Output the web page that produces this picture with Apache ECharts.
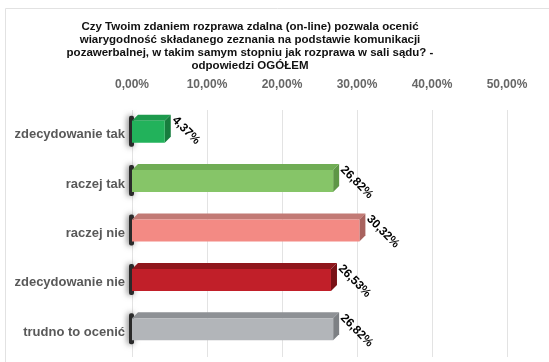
<!DOCTYPE html>
<html>
<head>
<meta charset="utf-8">
<script src="https://cdn.jsdelivr.net/npm/echarts@6/dist/echarts.min.js"></script>
<style>html,body{margin:0;padding:0;background:#fff}#c{width:549px;height:362px}</style>
</head>
<body>
<div id="c"></div>
<script>
const titleText = "Czy Twoim zdaniem rozprawa zdalna (on-line) pozwala ocenić\nwiarygodność składanego zeznania na podstawie komunikacji\npozawerbalnej, w takim samym stopniu jak rozprawa w sali sądu? -\nodpowiedzi OGÓŁEM";
const categories = ["zdecydowanie tak", "raczej tak", "raczej nie", "zdecydowanie nie", "trudno to ocenić"];
const values = [4.37, 26.82, 30.32, 26.53, 26.82];
const frontColors = ["#22b25b", "#86c568", "#f38a84", "#c11f29", "#b2b5b9"];
const topColors = ["#1d9a4d", "#70ad55", "#c27a75", "#8f161c", "#8e9195"];
const sideColors = ["#177d3e", "#5e9646", "#a8625e", "#7a1217", "#7d8084"];

const fmt = v => v.toFixed(2).replace('.', ',') + '%';

const chart = echarts.init(document.getElementById('c'));
chart.setOption({
  animation: false,
  title: {
    text: titleText,
    left: 245, top: 15, textAlign: 'center',
    textStyle: { fontFamily: 'Liberation Sans, Arial', fontSize: 11.5, fontWeight: 'bold', color: '#111', lineHeight: 13 }
  },
  graphic: [{
    type: 'rect', shape: { x: 5.5, y: 8.5, width: 560, height: 370 },
    style: { fill: 'none', stroke: '#e2e2e2', lineWidth: 1 }, z: -10
  }],
  grid: { left: 132, width: 375, top: 110, height: 247 },
  xAxis: {
    type: 'value', position: 'top', min: 0, max: 50, interval: 10,
    axisLine: { show: false }, axisTick: { show: false },
    axisLabel: { formatter: fmt, color: '#666', fontWeight: 'bold', fontSize: 12, fontFamily: 'Liberation Sans, Arial', margin: 19 },
    splitLine: { lineStyle: { color: '#e3e3e3' } }
  },
  yAxis: {
    type: 'category', data: categories, inverse: true,
    axisLine: { show: false }, axisTick: { show: false },
    axisLabel: { color: '#595959', fontWeight: 'bold', fontSize: 13, fontFamily: 'Liberation Sans, Arial', margin: 7 }
  },
  series: [{
    type: 'custom',
    data: values.map((v, i) => [v, i]),
    encode: { x: 0, y: 1 },
    renderItem: function (params, api) {
      const i = params.dataIndex;
      const v = api.value(0);
      const c = api.value(1);
      const p0 = api.coord([0, c]);
      const p1 = api.coord([v, c]);
      const h = 22, d = 6;
      const x0 = p0[0], x1 = p1[0];
      const top = p0[1] - 4 - h / 2 + 1, bot = top + h;
      return {
        type: 'group',
        children: [
          { type: 'rect', shape: { x: x0 - 3, y: top - 5, width: 5, height: h + 9, r: 2 },
            style: { fill: '#2a2a2a', shadowBlur: 6, shadowColor: 'rgba(0,0,0,0.6)', shadowOffsetX: -1 } },
          { type: 'polygon', shape: { points: [[x0, top], [x0 + d, top - d], [x1 + d, top - d], [x1, top]] },
            style: { fill: topColors[i] } },
          { type: 'polygon', shape: { points: [[x1, top], [x1 + d, top - d], [x1 + d, bot - d], [x1, bot]] },
            style: { fill: sideColors[i] } },
          { type: 'rect', shape: { x: x0, y: top, width: x1 - x0, height: h },
            style: { fill: frontColors[i] } },
          { type: 'text', x: x1 + 5, y: top + 2, rotation: -Math.PI / 4,
            style: { text: fmt(v), fill: '#000', font: 'bold 12px Liberation Sans, Arial', align: 'left', verticalAlign: 'bottom' } }
        ]
      };
    }
  }]
});
</script>
</body>
</html>
